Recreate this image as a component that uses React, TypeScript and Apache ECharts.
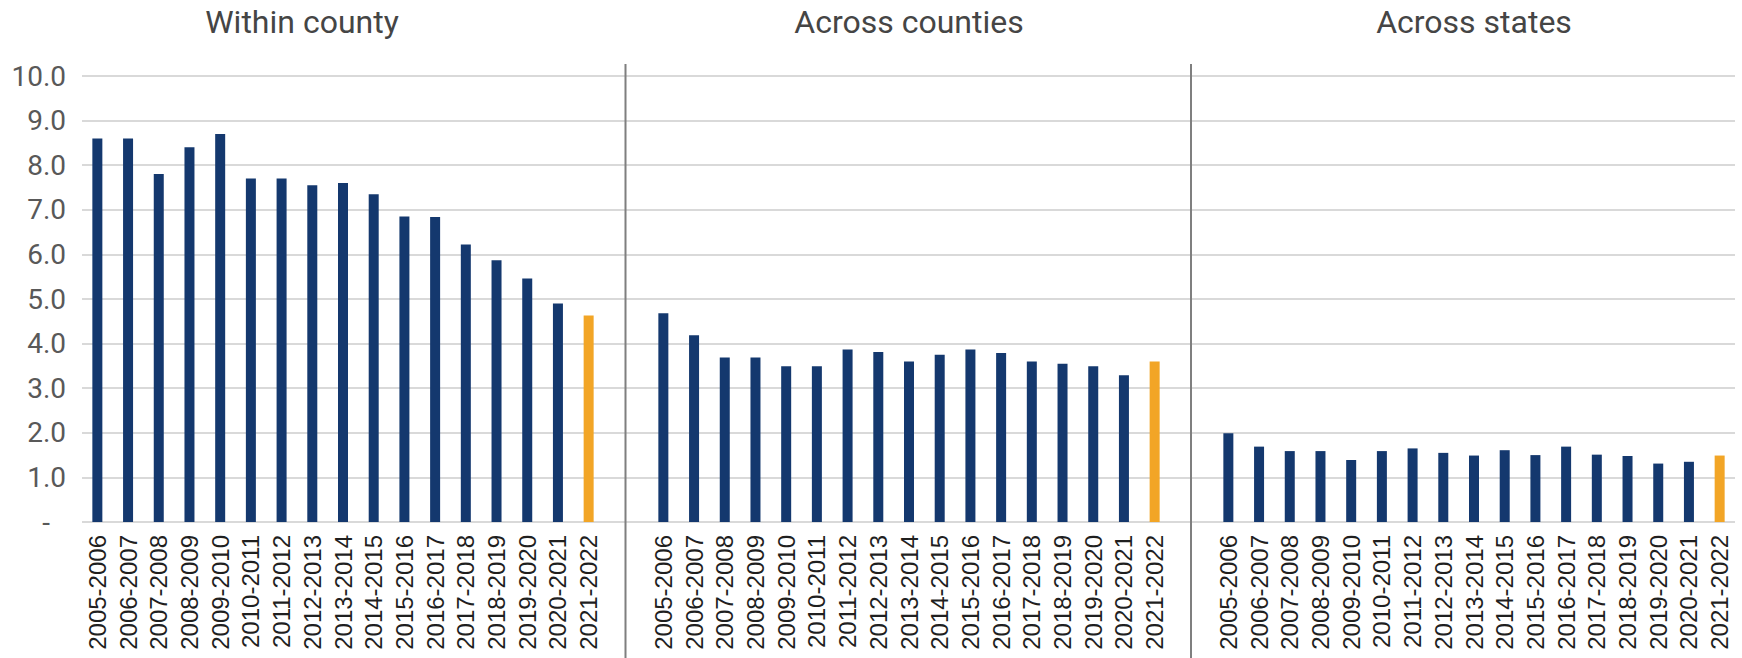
import React, { useEffect, useRef } from "react";
import * as echarts from "echarts";

const categories = [
  "2005-2006", "2006-2007", "2007-2008", "2008-2009", "2009-2010", "2010-2011",
  "2011-2012", "2012-2013", "2013-2014", "2014-2015", "2015-2016", "2016-2017",
  "2017-2018", "2018-2019", "2019-2020", "2020-2021", "2021-2022",
];
const panelTitles = ["Within county", "Across counties", "Across states"];
const withinCounty = [8.6, 8.6, 7.8, 8.4, 8.7, 7.7, 7.7, 7.55, 7.6, 7.35, 6.85, 6.84, 6.22, 5.87, 5.46, 4.9, 4.63];
const acrossCounties = [4.68, 4.19, 3.69, 3.69, 3.49, 3.49, 3.87, 3.81, 3.6, 3.75, 3.87, 3.79, 3.6, 3.55, 3.49, 3.29, 3.6];
const acrossStates = [1.99, 1.69, 1.59, 1.59, 1.39, 1.59, 1.65, 1.55, 1.49, 1.61, 1.5, 1.69, 1.51, 1.48, 1.31, 1.35, 1.49];
const yMin = 0;
const yMax = 10;
const yInterval = 1;

const W = 1742;
const H = 658;
const NAVY = "#14386e";
const ORANGE = "#f2a526";
const GRID_TOP = 76;
const GRID_BOTTOM = 136;
const PANEL_LEFTS = [82, 648, 1213];
const PANEL_WIDTH = 522;
const TITLE_X = [302, 909, 1474];
const SEPARATORS = [625.5, 1191];

export default function App() {
  const ref = useRef<HTMLDivElement>(null);

  useEffect(() => {
    document.body.style.margin = "0";
    if (!ref.current) return;
    const chart = echarts.init(ref.current, null, { renderer: "svg", width: W, height: H });
    const panels = [withinCounty, acrossCounties, acrossStates];

    const grids: any[] = [
      { left: PANEL_LEFTS[0], right: W - (PANEL_LEFTS[2] + PANEL_WIDTH), top: GRID_TOP, bottom: GRID_BOTTOM },
      ...PANEL_LEFTS.map((l) => ({ left: l, width: PANEL_WIDTH, top: GRID_TOP, bottom: GRID_BOTTOM })),
    ];

    const xAxes: any[] = [
      { type: "value", gridIndex: 0, min: 0, max: 1, show: false },
      ...panels.map((_, i) => ({
        type: "category",
        gridIndex: i + 1,
        data: categories,
        axisLine: { show: false },
        axisTick: { show: false },
        axisLabel: {
          rotate: 90,
          interval: 0,
          margin: 13,
          fontSize: 24,
          color: "#1f1f1f",
          fontFamily: "Liberation Sans, Arial, sans-serif",
        },
      })),
    ];

    const yAxes: any[] = [
      {
        type: "value",
        gridIndex: 0,
        min: yMin,
        max: yMax,
        interval: yInterval,
        axisLine: { show: false },
        axisTick: { show: false },
        splitLine: { show: true, lineStyle: { color: "#d9d9d9", width: 2 } },
        axisLabel: {
          margin: 16,
          fontSize: 28,
          color: "#595959",
          fontFamily: "Roboto, sans-serif",
          formatter: (v: number) => (v === 0 ? "{dash|-}" : v.toFixed(1)),
          rich: {
            dash: { padding: [0, 16, 0, 0], fontSize: 28, color: "#595959", fontFamily: "Roboto, sans-serif" },
          },
        },
      },
      ...panels.map((_, i) => ({
        type: "value",
        gridIndex: i + 1,
        min: yMin,
        max: yMax,
        interval: yInterval,
        show: false,
        splitLine: { show: false },
      })),
    ];

    const series: any[] = panels.map((vals, i) => ({
      type: "bar",
      name: panelTitles[i],
      xAxisIndex: i + 1,
      yAxisIndex: i + 1,
      barWidth: 10,
      data: vals.map((v, j) => ({
        value: v,
        itemStyle: { color: j === vals.length - 1 ? ORANGE : NAVY },
      })),
    }));

    const titles = panelTitles.map((t, i) => ({
      text: t,
      left: TITLE_X[i],
      top: 6,
      padding: 0,
      textAlign: "center",
      textStyle: { fontSize: 32, fontWeight: "normal", color: "#454545", fontFamily: "Roboto, sans-serif" },
    }));

    const graphics = SEPARATORS.map((x) => ({
      type: "line",
      shape: { x1: x, y1: 64, x2: x, y2: H },
      style: { stroke: "#7f7f7f", lineWidth: 2 },
      z: 10,
    }));

    chart.setOption({
      animation: false,
      backgroundColor: "#ffffff",
      title: titles,
      grid: grids,
      xAxis: xAxes,
      yAxis: yAxes,
      series,
      graphic: graphics,
    });

    return () => chart.dispose();
  }, []);

  return <div ref={ref} style={{ width: W, height: H, position: "absolute", left: 0, top: 0 }} />;
}
